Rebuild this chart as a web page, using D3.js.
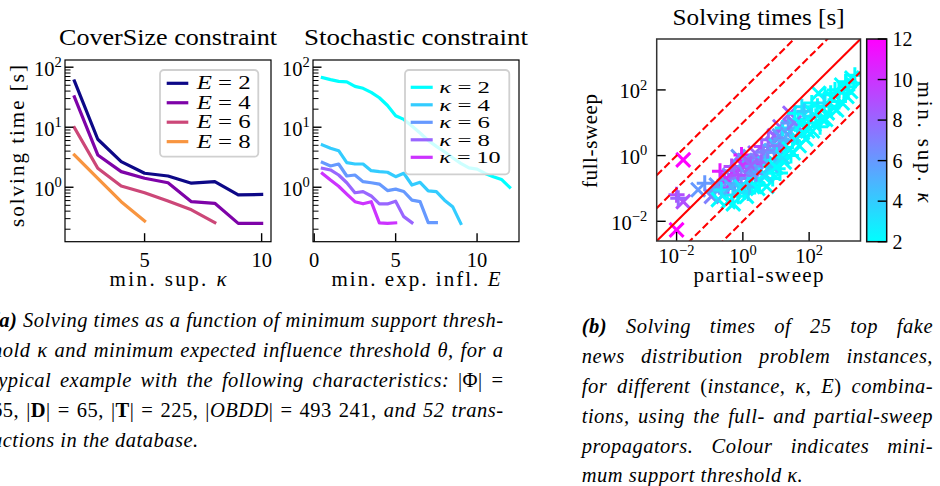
<!DOCTYPE html>
<html>
<head>
<meta charset="utf-8">
<script src="https://cdn.jsdelivr.net/npm/d3@7"></script>
<style>
  body { margin: 0; background: #fff; }
  svg { display: block; }
  text { font-family: "Liberation Serif", "DejaVu Serif", serif; fill: #000; white-space: pre; }
</style>
</head>
<body>
<script>
// ---- data ----
var coverKappa = [2, 3, 4, 5, 6, 7, 8, 9, 10];
var coverE = [2, 4, 6, 8];
var coverTimes = [
    [59, 6.3, 2.67, 1.71, 1.54, 1.17, 1.24, 0.745, 0.76],
    [32, 3.45, 1.82, 1.41, 1.19, 0.575, 0.54, 0.25, 0.25],
    [9.85, 2.07, 1.05, 0.81, 0.59, 0.42, 0.257],
    [3.45, 1.41, 0.575, 0.275]
];

var stochE = [0.5, 1, 1.5, 2, 2.5, 3, 3.5, 4, 4.5, 5, 5.5, 6, 6.5, 7, 7.5, 8, 8.5, 9, 9.5, 10, 10.5, 11, 11.5, 12];
var stochKappa = [2, 4, 6, 8, 10];
var stochTimes = [
    [67, 62, 58, 57, 48, 44.5, 38, 31, 23, 15.5, 13.5, 10.5, 8.0, 6.0, 4.8, 3.9, 3.1, 2.5, 2.1, 2.0, 1.7, 1.5, 1.35, 1.0],
    [5.07, 4.47, 4.07, 2.57, 2.44, 2.44, 1.89, 1.82, 1.78, 1.5, 1.71, 1.09, 1.21, 0.87, 0.845, 0.61, 0.475, 0.25],
    [2.6, 2.26, 2.44, 1.54, 1.6, 1.24, 1.19, 1.13, 0.88, 0.93, 0.85, 0.61, 0.575, 0.257, 0.257],
    [2.07, 1.94, 1.6, 1.19, 0.81, 0.845, 0.716, 0.527, 0.527, 0.585, 0.324, 0.257],
    [1.7, 1.32, 1.04, 0.77, 0.575, 0.53, 0.575, 0.255, 0.25, 0.255]
];

// [log10 partial-sweep time, log10 full-sweep time, kappa]
var sweepLog10 = [
    [-1.8, -0.13, 12], [-2.0, -1.19, 9], [-1.8, -1.4, 9], [-1.95, -1.3, 8], [-2.0, -2.26, 12],
    [-1.15, -0.84, 6], [-1.35, -1.04, 6], [-0.69, -0.48, 11], [-0.14, -0.03, 6], [-0.04, 0.02, 11],
    [-0.95, -1.24, 7], [-0.85, -1.1, 5], [-0.74, -1.34, 2], [-0.7, -0.95, 8], [-0.6, -1.2, 4],
    [-0.55, -0.75, 6], [-0.44, -1.4, 2], [-0.45, -1.0, 9], [-0.4, -0.6, 7], [-0.34, -0.33, 9],
    [-0.5, -0.7, 10], [-0.25, -0.45, 8], [0.05, -0.15, 6], [0.4, -0.25, 9], [0.9, 0.35, 7],
    [-0.3, -1.2, 3], [-0.29, -1.47, 2], [-0.25, -0.85, 6], [-0.2, -0.5, 8], [-0.14, -1.24, 2],
    [-0.1, -1.0, 4], [-0.05, -0.7, 7], [0.0, -0.3, 10], [0.05, -1.1, 2], [0.11, -1.24, 2],
    [0.16, -1.14, 3], [0.1, -0.55, 6], [0.15, -0.85, 5], [0.2, -0.2, 9], [0.25, -0.6, 7],
    [0.3, -0.95, 2], [0.31, -0.33, 6], [0.37, 0.08, 8], [0.37, -0.7, 3], [0.45, -0.15, 7],
    [0.5, -0.9, 2], [0.5, -0.45, 5], [0.57, 0.28, 9], [0.6, -0.6, 2], [0.62, 0.1, 7],
    [0.65, -0.25, 4], [0.72, -0.13, 6], [0.72, -0.94, 2], [0.77, 0.48, 8], [0.8, -0.45, 2],
    [0.77, -0.23, 3], [0.85, 0.15, 5], [0.9, -0.7, 2], [0.95, 0.6, 8], [0.97, -0.1, 2],
    [1.0, 0.3, 4], [1.05, -0.4, 2], [1.12, 0.88, 8], [1.12, -0.53, 2], [1.17, 0.08, 2],
    [1.17, 0.5, 5], [1.1, 0.6, 6], [1.2, 0.84, 3], [1.25, -0.2, 2], [1.3, 0.25, 3],
    [1.35, 0.65, 6], [1.37, 0.99, 6], [1.42, 1.29, 8], [1.45, 0.0, 2], [1.52, 0.08, 2],
    [1.5, 0.45, 2], [1.57, 0.58, 2], [1.57, 1.29, 2], [1.6, 0.9, 4], [1.67, 1.09, 2],
    [1.7, 0.3, 2], [1.78, 1.49, 3], [1.8, 0.7, 2], [1.85, 1.1, 2], [1.9, 0.5, 2],
    [1.98, 0.99, 2], [2.0, 1.4, 2], [2.08, 1.6, 2], [2.1, 0.75, 2], [2.2, 1.2, 2],
    [2.28, 1.9, 2], [2.33, 0.88, 2], [2.38, 1.39, 2], [2.48, 1.85, 2], [2.5, 1.1, 2],
    [2.6, 1.5, 2], [2.7, 1.75, 2], [2.78, 2.0, 2], [2.83, 1.39, 2], [2.9, 1.65, 2],
    [2.98, 2.15, 2], [3.05, 1.9, 2], [3.14, 1.8, 2], [3.2, 2.1, 2], [3.29, 2.36, 2], [3.35, 2.2, 2],
    [-0.8, -0.9, 6], [-0.65, -1.05, 3], [-0.35, -0.95, 5], [-0.15, -0.6, 9], [-0.05, -0.95, 3],
    [0.2, -0.95, 4], [0.25, -0.3, 8], [0.4, -0.55, 6], [0.45, -1.0, 2], [0.55, -0.2, 8],
    [0.7, -0.6, 3], [0.75, 0.15, 7], [0.85, -0.3, 4], [0.95, 0.1, 6], [1.0, -0.35, 2],
    [1.1, 0.3, 7], [1.2, -0.05, 3], [1.3, 0.45, 5], [1.4, 0.2, 2], [1.45, 0.8, 5],
    [1.55, 1.0, 7], [1.65, 0.6, 3], [1.75, 0.95, 2], [1.85, 1.35, 4], [1.95, 0.75, 2],
    [2.05, 1.2, 3], [2.15, 0.95, 2], [2.25, 1.5, 2], [2.4, 1.1, 2], [2.45, 1.6, 3],
    [2.55, 1.3, 2], [2.65, 1.9, 2], [2.75, 1.45, 2], [2.9, 2.0, 2], [3.0, 1.6, 2],
    [3.1, 2.25, 2], [3.25, 1.95, 2], [3.38, 2.45, 2]
];
var ratioExponents = [-2, -1, 0, 1, 2];

var coverXTicks = [5, 10];
var stochXTicks = [0, 5, 10];
var timeYTicks = [0, 1, 2];
var sweepTicks = [-2, 0, 2];
var kappaBarTicks = [2, 4, 6, 8, 10, 12];

(function(window){
    'use strict'

    var svg = d3.select('body').append('svg').attr('width', 940).attr('height', 486)
        .attr('font-family', '"Liberation Serif", "DejaVu Serif", serif');
    var defs = svg.append('defs');
    var cool = d3.interpolateRgb('#00ffff', '#ff00ff');
    function coolAt(k) { return cool((k - 2) / 10); }

    function addClip(id, x0, y0, x1, y1) {
        defs.append('clipPath').attr('id', id).append('rect')
            .attr('x', x0).attr('y', y0).attr('width', x1 - x0).attr('height', y1 - y0);
    }

    function text(x, y, parts, size, anchor, len, adjust) {
        var t = svg.append('text').attr('x', x).attr('y', y)
            .attr('font-size', size).attr('text-anchor', anchor || 'middle');
        parts.forEach(function(p){
            t.append('tspan').attr('font-style', p.i ? 'italic' : 'normal').text(p.t);
        });
        if (len) t.attr('textLength', len).attr('lengthAdjust', adjust || 'spacingAndGlyphs');
        return t;
    }

    function powLabel(x, y, e, anchor) {
        var t = svg.append('text').attr('x', x).attr('y', y)
            .attr('font-size', 20.5).attr('text-anchor', anchor);
        t.append('tspan').text('10');
        t.append('tspan').attr('dy', -8.5).attr('font-size', 14.5)
            .text(e < 0 ? '\u2212' + (-e) : String(e));
    }

    // ---- left panels: shared log y ----
    var top = 60, bottom = 241.7;
    var yTime = d3.scaleLog().domain([Math.pow(10, -0.907), Math.pow(10, 2.12)]).range([bottom, top]);

    function logAxisY(x0) {
        var g = svg.append('g');
        var d, m, v;
        for (d = -1; d <= 2; d++) {
            for (m = 2; m <= 9; m++) {
                v = m * Math.pow(10, d);
                if (v < yTime.domain()[0] || v > yTime.domain()[1]) continue;
                g.append('line').attr('x1', x0).attr('x2', x0 + 5.5)
                    .attr('y1', yTime(v)).attr('y2', yTime(v))
                    .attr('stroke', '#000').attr('stroke-width', 1);
            }
        }
        timeYTicks.forEach(function(e){
            var yy = yTime(Math.pow(10, e));
            g.append('line').attr('x1', x0).attr('x2', x0 + 8.5).attr('y1', yy).attr('y2', yy)
                .attr('stroke', '#000').attr('stroke-width', 1.4);
            powLabel(x0 - 3.3, yy + 8.3, e, 'end');
        });
    }

    function panel(id, x0, x1, xScale, xTicks, series, xs, colors, title, titleLen, xlabel, xlabelLen) {
        addClip(id, x0, top, x1, bottom);
        var line = d3.line().x(function(d){ return xScale(d[0]); }).y(function(d){ return yTime(d[1]); });
        var g = svg.append('g').attr('clip-path', 'url(#' + id + ')');
        series.forEach(function(s, i){
            g.append('path')
                .datum(s.map(function(v, j){ return [xs[j], v]; }))
                .attr('d', line).attr('fill', 'none')
                .attr('stroke', colors[i]).attr('stroke-width', 3.2)
                .attr('stroke-linecap', 'square').attr('stroke-linejoin', 'round');
        });
        xTicks.forEach(function(t){
            svg.append('line').attr('x1', xScale(t)).attr('x2', xScale(t))
                .attr('y1', bottom).attr('y2', bottom - 8.5)
                .attr('stroke', '#000').attr('stroke-width', 1.4);
            text(xScale(t), 267, [{t: String(t)}], 20.5, 'middle');
        });
        logAxisY(x0);
        svg.append('rect').attr('x', x0).attr('y', top).attr('width', x1 - x0).attr('height', bottom - top)
            .attr('fill', 'none').attr('stroke', '#000').attr('stroke-width', 1.2);
        text((x0 + x1) / 2, 45, [{t: title}], 24, 'middle', titleLen);
        text((x0 + x1) / 2, 286, xlabel, 21, 'middle', xlabelLen, 'spacing');
    }

    function legend(x0, y0, x1, y1, rows, colors, rowY, names, lens, hx0, hx1, tx, size) {
        svg.append('rect').attr('x', x0).attr('y', y0).attr('width', x1 - x0).attr('height', y1 - y0)
            .attr('rx', 4).attr('fill', '#fff').attr('fill-opacity', 0.8)
            .attr('stroke', '#d0d0d0').attr('stroke-width', 1.8);
        rows.forEach(function(r, i){
            var yy = rowY[0] + i * rowY[1];
            svg.append('line').attr('x1', hx0).attr('x2', hx1).attr('y1', yy).attr('y2', yy)
                .attr('stroke', colors[i]).attr('stroke-width', 3.2);
            text(tx, yy + 6, [{t: names, i: true}, {t: ' = ' + r}], size, 'start', lens[i]);
        });
    }

    // CoverSize panel
    var xCover = d3.scaleLinear().domain([1.6, 10.4]).range([65, 271]);
    var plasmaCols = coverE.map(function(e, i){ return d3.interpolatePlasma(i / 4); });
    panel('c1', 65, 271, xCover, coverXTicks, coverTimes, coverKappa, plasmaCols,
        'CoverSize constraint', 218, [{t: 'min. sup. '}, {t: '\u03ba', i: true}], 117);
    legend(160, 70, 258.3, 156.7, coverE, plasmaCols, [83.3, 19.45], 'E',
        [54, 54, 54, 54], 166.7, 188.3, 196.7, 18);

    // Stochastic panel
    var xStoch = d3.scaleLinear().domain([-0.075, 12.575]).range([313, 519]);
    var coolCols = stochKappa.map(coolAt);
    panel('c2', 313, 519, xStoch, stochXTicks, stochTimes, stochE, coolCols,
        'Stochastic constraint', 224, [{t: 'min. exp. infl. '}, {t: 'E', i: true}], 169);
    legend(405, 70, 509.3, 174.3, stochKappa, coolCols, [87.3, 17.5], '\u03ba',
        [50.7, 50.7, 50.7, 50.7, 61.4], 410.7, 432.7, 439.3, 17);

    // ---- scatter panel ----
    var sx0 = 656.7, sx1 = 860.5, sy0 = 39, sy1 = 241;
    var lo = Math.pow(10, -2.6), hi = Math.pow(10, 3.55);
    var xs = d3.scaleLog().domain([lo, hi]).range([sx0, sx1]);
    var ys = d3.scaleLog().domain([lo, hi]).range([sy1, sy0]);
    addClip('c3', sx0, sy0, sx1, sy1);
    var sg = svg.append('g').attr('clip-path', 'url(#c3)');

    sweepLog10.forEach(function(p, i){
        var cx = xs(Math.pow(10, p[0])), cy = ys(Math.pow(10, p[1]));
        var c = coolAt(p[2]);
        var path = (i % 2 === 0)
            ? 'M' + (cx - 7) + ',' + (cy - 7) + 'L' + (cx + 7) + ',' + (cy + 7) +
              'M' + (cx - 7) + ',' + (cy + 7) + 'L' + (cx + 7) + ',' + (cy - 7)
            : 'M' + (cx - 8) + ',' + cy + 'L' + (cx + 8) + ',' + cy +
              'M' + cx + ',' + (cy - 8) + 'L' + cx + ',' + (cy + 8);
        sg.append('path').attr('d', path).attr('stroke', c).attr('stroke-width', 3).attr('fill', 'none');
    });

    var rline = d3.line().x(function(d){ return xs(d[0]); }).y(function(d){ return ys(d[1]); });
    ratioExponents.forEach(function(k){
        var f = Math.pow(10, k);
        sg.append('path').datum([[lo, lo * f], [hi, hi * f]]).attr('d', rline)
            .attr('fill', 'none').attr('stroke', '#ff0000').attr('stroke-width', 2.1)
            .attr('stroke-dasharray', k === 0 ? null : '7.4,3.4');
    });

    sweepTicks.forEach(function(e){
        var v = Math.pow(10, e);
        svg.append('line').attr('x1', xs(v)).attr('x2', xs(v)).attr('y1', sy1).attr('y2', sy1 - 9)
            .attr('stroke', '#000').attr('stroke-width', 1.4);
        svg.append('line').attr('x1', sx0).attr('x2', sx0 + 9).attr('y1', ys(v)).attr('y2', ys(v))
            .attr('stroke', '#000').attr('stroke-width', 1.4);
        powLabel(xs(v), 263.3, e, 'middle');
        powLabel(sx0 - 9.4, ys(v) + 8.3, e, 'end');
    });
    svg.append('rect').attr('x', sx0).attr('y', sy0).attr('width', sx1 - sx0).attr('height', sy1 - sy0)
        .attr('fill', 'none').attr('stroke', '#333').attr('stroke-width', 1.5);
    text((sx0 + sx1) / 2, 24.5, [{t: 'Solving times [s]'}], 24, 'middle', 172);
    text((sx0 + sx1) / 2, 282, [{t: 'partial-sweep'}], 21, 'middle', 130, 'spacing');
    text(0, 0, [{t: 'full-sweep'}], 21, 'middle', 94, 'spacing')
        .attr('transform', 'translate(597,141) rotate(-90)');

    // colour bar
    var cb0 = 866.7, cb1 = 886.7;
    var yBar = d3.scaleLinear().domain([2, 12]).range([241.7, 39]);
    var grad = defs.append('linearGradient').attr('id', 'coolbar')
        .attr('x1', 0).attr('y1', 1).attr('x2', 0).attr('y2', 0);
    d3.range(0, 1.0001, 0.1).forEach(function(t){
        grad.append('stop').attr('offset', t).attr('stop-color', cool(t));
    });
    svg.append('rect').attr('x', cb0).attr('y', yBar(12)).attr('width', cb1 - cb0)
        .attr('height', yBar(2) - yBar(12)).attr('fill', 'url(#coolbar)')
        .attr('stroke', '#111').attr('stroke-width', 1.5);
    kappaBarTicks.forEach(function(k){
        svg.append('line').attr('x1', cb1 - 9).attr('x2', cb1).attr('y1', yBar(k)).attr('y2', yBar(k))
            .attr('stroke', '#000').attr('stroke-width', 1.4);
        text(892.5, yBar(k) + 7, [{t: String(k)}], 20, 'start');
    });
    text(0, 0, [{t: 'min. sup. '}, {t: '\u03ba', i: true}], 21, 'middle', 121, 'spacing')
        .attr('transform', 'translate(917.5,142) rotate(90)');

    // y label of the left panel
    text(0, 0, [{t: 'solving time [s]'}], 21, 'middle', 162, 'spacing')
        .attr('transform', 'translate(24,146) rotate(-90)');

    // ---- captions ----
    function captionLine(x, y, parts, target) {
        var t = svg.append('text').attr('x', x).attr('y', y).attr('font-size', 20.5)
            .attr('letter-spacing', 0.5);
        var full = '';
        parts.forEach(function(p){
            t.append('tspan')
                .attr('font-style', p.u ? 'normal' : 'italic')
                .attr('font-weight', p.b ? 'bold' : 'normal')
                .text(p.t);
            full += p.t;
        });
        if (target) {
            var w = t.node().getComputedTextLength();
            var n = full.split(' ').length - 1;
            if (n > 0) t.attr('word-spacing', (target - w) / n);
        }
    }

    var ax = -8, aw = 511.5;
    captionLine(ax, 326.7, [{t: '(a)', b: true}, {t: ' Solving times as a function of minimum support thresh-'}], aw);
    captionLine(ax, 356.7, [{t: 'hold \u03ba and minimum expected influence threshold \u03b8, for a'}], aw);
    captionLine(ax, 386.7, [{t: 'typical example with the following characteristics: '}, {t: '|\u03a6| =', u: true}], aw);
    captionLine(ax, 416.7, [{t: '65, |', u: true}, {t: 'D', u: true, b: true}, {t: '| = 65, |', u: true},
        {t: 'T', u: true, b: true}, {t: '| = 225, |', u: true}, {t: 'OBDD'}, {t: '| = 493 241,', u: true},
        {t: ' and 52 trans-'}], aw);
    captionLine(ax, 446.7, [{t: 'actions in the database.'}], null);

    var bx = 581.7, bw = 351.3;
    captionLine(bx, 333.3, [{t: '(b)', b: true}, {t: ' Solving times of 25 top fake'}], bw);
    captionLine(bx, 363.3, [{t: 'news distribution problem instances,'}], bw);
    captionLine(bx, 393.3, [{t: 'for different '}, {t: '(', u: true}, {t: 'instance, \u03ba, E'}, {t: ')', u: true},
        {t: ' combina-'}], bw);
    captionLine(bx, 423.3, [{t: 'tions, using the full- and partial-sweep'}], bw);
    captionLine(bx, 453.3, [{t: 'propagators. Colour indicates mini-'}], bw);
    captionLine(bx, 482, [{t: 'mum support threshold \u03ba.'}], null);

})(window);
</script>
</body>
</html>
